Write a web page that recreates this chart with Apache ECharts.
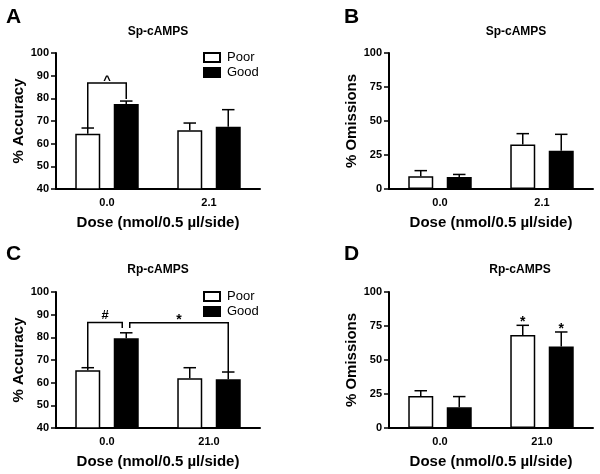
<!DOCTYPE html>
<html>
<head>
<meta charset="utf-8">
<script src="https://cdn.jsdelivr.net/npm/echarts@6/dist/echarts.min.js"></script>
<style>
html,body{margin:0;padding:0;background:#fff;}
#chart{width:600px;height:474px;}
</style>
</head>
<body>
<div id="chart"></div>
<script>
// ---------- DATA ----------
const groups = ['Poor', 'Good'];
const doseSp = ['0.0', '2.1'];
const doseRp = ['0.0', '21.0'];

// Panel A: Sp-cAMPS, % Accuracy
const accSpPoor = [64.4, 65.9];
const accSpPoorSem = [2.5, 3.2];
const accSpGood = [77.5, 67.5];
const accSpGoodSem = [1.3, 7.5];

// Panel B: Sp-cAMPS, % Omissions
const omSpPoor = [9.3, 32.8];
const omSpPoorSem = [4.2, 7.9];
const omSpGood = [8.8, 28.2];
const omSpGoodSem = [1.9, 12.0];

// Panel C: Rp-cAMPS, % Accuracy
const accRpPoor = [65.5, 61.9];
const accRpPoorSem = [1.1, 4.7];
const accRpGood = [79.6, 61.5];
const accRpGoodSem = [2.4, 3.2];

// Panel D: Rp-cAMPS, % Omissions
const omRpPoor = [23.5, 68.4];
const omRpPoorSem = [3.9, 7.1];
const omRpGood = [15.2, 60.0];
const omRpGoodSem = [7.9, 10.6];

// Axis ranges / ticks
const accAxis = { min: 40, max: 100, interval: 10 };
const omAxis = { min: 0, max: 100, interval: 25 };

// Significance brackets: [category, group] of each leg, leg end values, bracket level, label
const bracketsA = [
  { a: [0, 0], b: [0, 1], aEnd: 66.9, bEnd: 79.7, level: 86.8, text: '^' }
];
const bracketsC = [
  { a: [0, 0], b: [0, 1], aEnd: 66.3, bEnd: 84.1, level: 86.5, text: '#' },
  { a: [0, 1], b: [1, 1], aEnd: 84.1, bEnd: 64.7, level: 86.4, text: '*' }
];
// Asterisks above bars in D: [category, group]
const starsD = [[1, 0], [1, 1]];

// ---------- STYLE ----------
const FONT = '"Liberation Sans", Arial, Helvetica, sans-serif';
const BAR_FRAC = 0.245;
const GAP_FRAC = 0.54;
const legShift = { C: [[0, -4], [3.5, 0]] }; // px nudges for bracket legs that share a bar
const labelLift = { '^': 2.9, '#': 6.7, '*': 2.3 };

const chart = echarts.init(document.getElementById('chart'), null, { renderer: 'canvas' });

const panels = [
  { key: 'A', title: 'Sp-cAMPS', titleX: 158, titleY: 26, letterX: 6, letterY: 7,
    grid: { left: 56, top: 53, width: 204, height: 136 },
    cats: doseSp, axis: accAxis, yName: '% Accuracy',
    poor: accSpPoor, poorSem: accSpPoorSem, good: accSpGood, goodSem: accSpGoodSem,
    brackets: bracketsA, legend: { left: 203, top: 51 } },
  { key: 'B', title: 'Sp-cAMPS', titleX: 516, titleY: 26, letterX: 344, letterY: 7,
    grid: { left: 389, top: 53, width: 204, height: 136 },
    cats: doseSp, axis: omAxis, yName: '% Omissions',
    poor: omSpPoor, poorSem: omSpPoorSem, good: omSpGood, goodSem: omSpGoodSem },
  { key: 'C', title: 'Rp-cAMPS', titleX: 158, titleY: 264, letterX: 6, letterY: 244,
    grid: { left: 56, top: 292, width: 204, height: 136 },
    cats: doseRp, axis: accAxis, yName: '% Accuracy',
    poor: accRpPoor, poorSem: accRpPoorSem, good: accRpGood, goodSem: accRpGoodSem,
    brackets: bracketsC, legend: { left: 203, top: 290 } },
  { key: 'D', title: 'Rp-cAMPS', titleX: 520, titleY: 264, letterX: 344, letterY: 244,
    grid: { left: 389, top: 292, width: 204, height: 136 },
    cats: doseRp, axis: omAxis, yName: '% Omissions',
    poor: omRpPoor, poorSem: omRpPoorSem, good: omRpGood, goodSem: omRpGoodSem,
    stars: starsD }
];

function barX(api, cat, grp) {
  const band = api.size([1, 0])[0];
  const bw = band * BAR_FRAC;
  const off = (bw + bw * GAP_FRAC) / 2;
  const c = api.coord([cat, 0])[0];
  return { x: c + (grp === 0 ? -off : off), bw: bw };
}

const titles = [], grids = [], xAxes = [], yAxes = [], series = [], legends = [];

panels.forEach(function (p, idx) {
  titles.push({ text: p.key, left: p.letterX, top: p.letterY, padding: 0,
    textStyle: { fontFamily: FONT, fontWeight: 'bold', fontSize: 21, color: '#000' } });
  titles.push({ text: p.title, left: p.titleX, top: p.titleY, textAlign: 'center', padding: 0,
    textStyle: { fontFamily: FONT, fontWeight: 'bold', fontSize: 12, color: '#000' } });
  grids.push(p.grid);
  xAxes.push({
    type: 'category', gridIndex: idx, data: p.cats,
    name: 'Dose (nmol/0.5 \u00b5l/side)', nameLocation: 'middle', nameGap: 26,
    nameTextStyle: { fontFamily: FONT, fontWeight: 'bold', fontSize: 15, color: '#000' },
    axisLine: { lineStyle: { color: '#000', width: 2 } },
    axisTick: { alignWithLabel: true, length: 4, lineStyle: { color: '#000', width: 1.5 } },
    axisLabel: { margin: 8, fontFamily: FONT, fontWeight: 'bold', fontSize: 11, color: '#000' },
    splitLine: { show: false }
  });
  yAxes.push({
    type: 'value', gridIndex: idx, min: p.axis.min, max: p.axis.max, interval: p.axis.interval,
    name: p.yName, nameLocation: 'middle', nameGap: 27,
    nameTextStyle: { fontFamily: FONT, fontWeight: 'bold', fontSize: 15, color: '#000' },
    axisLine: { show: true, lineStyle: { color: '#000', width: 2 } },
    axisTick: { show: true, length: 5, lineStyle: { color: '#000', width: 1.5 } },
    axisLabel: { margin: 7, fontFamily: FONT, fontWeight: 'bold', fontSize: 11, color: '#000' },
    splitLine: { show: false }
  });
  series.push({
    type: 'bar', name: 'Poor', xAxisIndex: idx, yAxisIndex: idx, data: p.poor,
    barWidth: (BAR_FRAC * 100) + '%', barGap: (GAP_FRAC * 100) + '%',
    itemStyle: { color: '#fff', borderColor: '#000', borderWidth: 1.5 },
    emphasis: { disabled: true }, animation: false
  });
  series.push({
    type: 'bar', name: 'Good', xAxisIndex: idx, yAxisIndex: idx, data: p.good,
    barWidth: (BAR_FRAC * 100) + '%', barGap: (GAP_FRAC * 100) + '%',
    itemStyle: { color: '#000', borderColor: '#000', borderWidth: 1.5 },
    emphasis: { disabled: true }, animation: false
  });
  // error bars
  const errData = [];
  p.poor.forEach(function (v, i) { errData.push([i, v, p.poorSem[i], 0]); });
  p.good.forEach(function (v, i) { errData.push([i, v, p.goodSem[i], 1]); });
  series.push({
    type: 'custom', name: 'err' + p.key, xAxisIndex: idx, yAxisIndex: idx, data: errData,
    silent: true, animation: false, z: 3,
    renderItem: function (params, api) {
      const cat = api.value(0), mean = api.value(1), sem = api.value(2), grp = api.value(3);
      const bx = barX(api, cat, grp);
      const y0 = api.coord([cat, mean])[1];
      const y1 = api.coord([cat, mean + sem])[1];
      const hw = bx.bw * 0.25;
      const st = { stroke: '#000', lineWidth: 1.5 };
      return { type: 'group', children: [
        { type: 'line', shape: { x1: bx.x, y1: y0, x2: bx.x, y2: y1 }, style: st },
        { type: 'line', shape: { x1: bx.x - hw, y1: y1, x2: bx.x + hw, y2: y1 }, style: st }
      ] };
    }
  });
  if (p.brackets) {
    const shifts = legShift[p.key] || p.brackets.map(function () { return [0, 0]; });
    series.push({
      type: 'custom', name: 'sig' + p.key, xAxisIndex: idx, yAxisIndex: idx,
      data: p.brackets.map(function (b, i) { return [b.a[0], b.level, i]; }),
      silent: true, animation: false, z: 4,
      renderItem: function (params, api) {
        const i = api.value(2);
        const b = p.brackets[i];
        const sh = shifts[i];
        const xa = barX(api, b.a[0], b.a[1]).x + sh[0];
        const xb = barX(api, b.b[0], b.b[1]).x + sh[1];
        const yl = api.coord([0, b.level])[1];
        const ya = api.coord([0, b.aEnd])[1];
        const yb = api.coord([0, b.bEnd])[1];
        return { type: 'group', children: [
          { type: 'polyline', shape: { points: [[xa, ya], [xa, yl], [xb, yl], [xb, yb]] },
            style: { stroke: '#000', lineWidth: 1.5, fill: null } },
          { type: 'text', style: { text: b.text, x: (xa + xb) / 2, y: yl - labelLift[b.text],
            align: 'center', verticalAlign: 'middle',
            font: 'bold ' + (b.text === '*' ? 14 : 13) + 'px ' + FONT, fill: '#000' } }
        ] };
      }
    });
  }
  if (p.stars) {
    series.push({
      type: 'custom', name: 'star' + p.key, xAxisIndex: idx, yAxisIndex: idx,
      data: p.stars.map(function (s) { return [s[0], s[1]]; }),
      silent: true, animation: false, z: 4,
      renderItem: function (params, api) {
        const cat = api.value(0), grp = api.value(1);
        const mean = grp === 0 ? p.poor[cat] : p.good[cat];
        const sem = grp === 0 ? p.poorSem[cat] : p.goodSem[cat];
        const bx = barX(api, cat, grp);
        const y = api.coord([cat, mean + sem])[1];
        return { type: 'text', style: { text: '*', x: bx.x, y: y - 2.8,
          align: 'center', verticalAlign: 'middle', font: 'bold 14px ' + FONT, fill: '#000' } };
      }
    });
  }
  if (p.legend) {
    legends.push({
      data: groups, orient: 'vertical', left: p.legend.left, top: p.legend.top,
      itemWidth: 16, itemHeight: 9, itemGap: 2, padding: 0, icon: 'rect',
      selectedMode: false,
      textStyle: { fontFamily: FONT, fontSize: 13, color: '#000', padding: [0, 0, 0, 2] }
    });
  }
});

chart.setOption({
  animation: false,
  backgroundColor: '#fff',
  title: titles,
  legend: legends,
  grid: grids,
  xAxis: xAxes,
  yAxis: yAxes,
  series: series
});
</script>
</body>
</html>
